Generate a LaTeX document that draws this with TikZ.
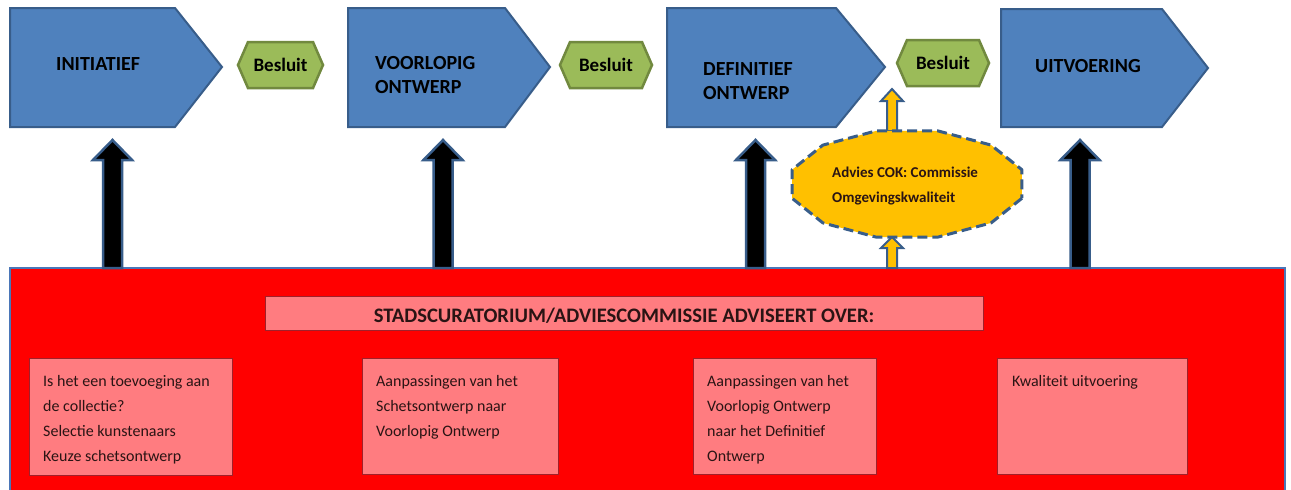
\documentclass[tikz,border=0pt]{standalone}
\usepackage{fontspec}
\setmainfont{Carlito}
\definecolor{pfill}{HTML}{4F81BD}
\definecolor{pdraw}{HTML}{385D8A}
\definecolor{gfill}{HTML}{9BBB59}
\definecolor{gdraw}{HTML}{71893F}
\definecolor{yfill}{HTML}{FFC000}
\definecolor{pink}{HTML}{FF7C80}
\definecolor{pinkdraw}{HTML}{A0202A}
\definecolor{boxtext}{HTML}{2A1414}
\definecolor{redborder}{HTML}{4A76B8}
\newcommand{\lines}[1]{\begin{tabular}[t]{@{}l@{}}#1\end{tabular}}
\tikzset{
  phase/.style={fill=pfill,draw=pdraw,line width=2pt,line join=miter},
  besluitshape/.style={fill=gfill,draw=gdraw,line width=2.5pt,line join=miter},
  phasetext/.style={inner sep=0pt,anchor=base west,font=\fontsize{20}{24.5}\selectfont\bfseries},
  besluittext/.style={inner sep=0pt,anchor=base,font=\fontsize{19}{22}\selectfont\bfseries},
  blackarrow/.style={fill=black,draw=pdraw,line width=2.5pt,line join=miter},
  yellowarrow/.style={fill=yfill,draw=pdraw,line width=2pt,line join=miter},
  cokshape/.style={fill=yfill,draw=pdraw,line width=3pt,dash pattern=on 10pt off 5pt,line join=round},
  infobox/.style={fill=pink,draw=pinkdraw,line width=1pt},
  infotext/.style={inner sep=0pt,anchor=base west,text=boxtext,font=\fontsize{16}{25.2}\selectfont},
}
% block arrow pointing up: style, x, ytip, ybottom, shaft half width, head half width, head length
\newcommand{\blockup}[7]{%
  \draw[#1] (#2-#5,#4) -- (#2-#5,#3+#7) -- (#2-#6,#3+#7) -- (#2,#3) -- (#2+#6,#3+#7) -- (#2+#5,#3+#7) -- (#2+#5,#4) -- cycle;}
\begin{document}
\begin{tikzpicture}[x=1pt,y=-1pt]
\useasboundingbox (0,0) rectangle (1291,490);
\fill[white] (0,0) rectangle (1291,490);

% phases
\draw[phase] (10,8) -- (175,8) -- (222,67) -- (175,127) -- (10,127) -- cycle;
\node[phasetext] (initiatief) at (56,70) {INITIATIEF};
\draw[phase] (348,8) -- (505,8) -- (550,67) -- (505,127) -- (348,127) -- cycle;
\node[phasetext] (voorlopig) at (375,69) {\lines{VOORLOPIG\\ONTWERP}};
\draw[phase] (667,8) -- (836,8) -- (885,67) -- (836,127) -- (667,127) -- cycle;
\node[phasetext] (definitief) at (703,75) {\lines{DEFINITIEF\\ONTWERP}};
\draw[phase] (1001,9) -- (1162,9) -- (1208,68) -- (1162,127) -- (1001,127) -- cycle;
\node[phasetext] (uitvoering) at (1035,72) {UITVOERING};

% besluit hexagons
\draw[besluitshape] (238,65) -- (248,42) -- (313,42) -- (323,65) -- (313,88) -- (248,88) -- cycle;
\node[besluittext] (b1) at (280.5,71) {Besluit};
\draw[besluitshape] (560,65) -- (570,42) -- (642,42) -- (652,65) -- (642,88) -- (570,88) -- cycle;
\node[besluittext] (b2) at (606,71) {Besluit};
\draw[besluitshape] (897,63) -- (907,40) -- (979,40) -- (989,63) -- (979,86) -- (907,86) -- cycle;
\node[besluittext] (b3) at (943,69) {Besluit};

% red panel
\draw[fill=red,draw=redborder,line width=2.5pt] (10,268) rectangle (1285,500);

% black up arrows
\blockup{blackarrow}{112.5}{140}{268}{9.5}{19.5}{20}
\blockup{blackarrow}{443}{140}{268}{9.5}{19.5}{20}
\blockup{blackarrow}{755.5}{140}{268}{9.5}{19.5}{20}
\blockup{blackarrow}{1080}{140}{268}{9.5}{19.5}{20}

% COK advice
\blockup{yellowarrow}{892}{89}{131}{5}{11}{12}
\blockup{yellowarrow}{892}{237}{268}{5}{11}{11}
\coordinate (cok) at (907,184);
\draw[cokshape] plot[samples at={15,45,...,345}] ({907+119*cos(\x)},{184+55*sin(\x)}) -- cycle;
\node[inner sep=0pt,anchor=base west,font=\fontsize{15}{25}\selectfont\bfseries,text=boxtext]
  (coktext) at (832,177) {\lines{Advies COK: Commissie\\Omgevingskwaliteit}};

% title
\draw[infobox] (265,296) rectangle (983,330);
\node[inner sep=0pt,anchor=base,text=boxtext,font=\fontsize{20.6}{24}\selectfont\bfseries] (title) at (624,322)
  {STADSCURATORIUM/ADVIESCOMMISSIE ADVISEERT OVER:};

% info boxes
\draw[infobox] (29,358) rectangle (232,475);
\node[infotext] (i1) at (43,386) {\lines{Is het een toevoeging aan\\de collectie?\\Selectie kunstenaars\\Keuze schetsontwerp}};
\draw[infobox] (362,358) rectangle (558,474);
\node[infotext] (i2) at (376,386) {\lines{Aanpassingen van het\\Schetsontwerp naar\\Voorlopig Ontwerp}};
\draw[infobox] (693,358) rectangle (876,474);
\node[infotext] (i3) at (707,386) {\lines{Aanpassingen van het\\Voorlopig Ontwerp\\naar het Definitief\\Ontwerp}};
\draw[infobox] (997,358) rectangle (1187,474);
\node[infotext] (i4) at (1012,386) {Kwaliteit uitvoering};
\end{tikzpicture}
\end{document}
